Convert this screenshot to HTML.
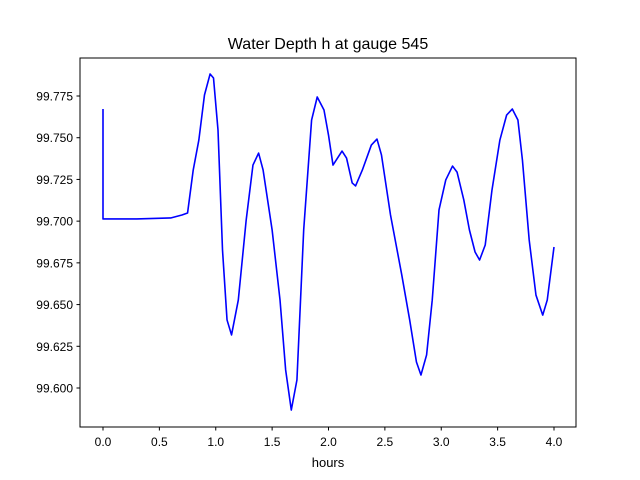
<!DOCTYPE html>
<html><head><meta charset="utf-8"><style>
body{margin:0;background:#fff;}
svg{display:block;font-family:"Liberation Sans","DejaVu Sans",sans-serif;}
</style></head><body>
<svg id="chart" width="640" height="480">
<rect x="0" y="0" width="640" height="480" fill="#fff"/>
<text x="328" y="49" font-size="16" text-anchor="middle">Water Depth h at gauge 545</text>
<g id="grid"></g>
<path id="series" fill="none" stroke="#0000ff" stroke-width="1.6" stroke-linejoin="round"/>
<rect x="80" y="58" width="496" height="369" fill="none" stroke="#000" stroke-width="1"/>
<text x="328" y="467" font-size="13" text-anchor="middle">hours</text>
</svg>
<script>
const hours=[0,0,0.3,0.6,0.7,0.75,0.8,0.85,0.9,0.95,0.98,1.02,1.06,1.1,1.14,1.2,1.27,1.33,1.38,1.42,1.5,1.57,1.62,1.67,1.72,1.78,1.85,1.9,1.96,2.0,2.04,2.08,2.12,2.16,2.21,2.24,2.3,2.38,2.43,2.47,2.55,2.65,2.72,2.78,2.82,2.87,2.92,2.98,3.04,3.1,3.14,3.2,3.25,3.3,3.34,3.39,3.45,3.52,3.58,3.63,3.68,3.72,3.78,3.84,3.9,3.94,4.0];
const depth=[99.7672,99.7013,99.7013,99.7019,99.7037,99.7049,99.7306,99.7486,99.7756,99.7882,99.7858,99.7546,99.6827,99.6408,99.6318,99.6527,99.7007,99.7336,99.7408,99.7306,99.6947,99.6527,99.6108,99.5868,99.6048,99.6947,99.7606,99.7744,99.7666,99.7516,99.7336,99.7378,99.7420,99.7378,99.7229,99.7211,99.7306,99.7456,99.7492,99.7396,99.7037,99.6677,99.6408,99.6156,99.6078,99.6198,99.6527,99.7067,99.7247,99.7330,99.7294,99.7127,99.6947,99.6815,99.6767,99.6857,99.7187,99.7486,99.7636,99.7672,99.7606,99.7366,99.6887,99.6557,99.6437,99.6527,99.6845];
const xTicks=[0,0.5,1,1.5,2,2.5,3,3.5,4];
const xTickLabels=["0.0","0.5","1.0","1.5","2.0","2.5","3.0","3.5","4.0"];
const yTicks=[99.600,99.625,99.650,99.675,99.700,99.725,99.750,99.775];
const yTickLabels=["99.600","99.625","99.650","99.675","99.700","99.725","99.750","99.775"];
const X=v=>103+v*112.75;
const Y=v=>96+(99.775-v)*1668.6;
const NS="http://www.w3.org/2000/svg";
const g=document.getElementById('grid');
function mk(tag,attrs){const e=document.createElementNS(NS,tag);for(const k in attrs)e.setAttribute(k,attrs[k]);g.appendChild(e);return e;}
xTicks.forEach((t,i)=>{
 const l=mk('line',{x1:X(t),x2:X(t),y1:427,y2:430.5,stroke:'#000'});
 
 
 const tx=mk('text',{x:X(t),y:446,'font-size':12,'text-anchor':'middle'});
 tx.textContent=xTickLabels[i];
 
 
});
yTicks.forEach((t,i)=>{
 const l=mk('line',{x1:76.5,x2:80,y1:Y(t),y2:Y(t),stroke:'#000'});
 
 
 const tx=mk('text',{x:73,y:Y(t)+4.5,'font-size':12,'text-anchor':'end'});
 tx.textContent=yTickLabels[i];
 
 
});
let d='';
hours.forEach((h,i)=>{d+=(i?'L':'M')+X(h).toFixed(2)+','+Y(depth[i]).toFixed(2);});
document.getElementById('series').setAttribute('d',d);
</script>
</body></html>
